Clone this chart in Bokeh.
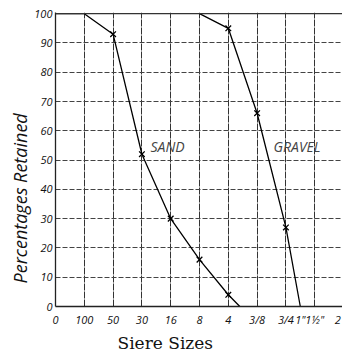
import math
from bokeh.plotting import figure
from bokeh.models import FixedTicker, Label, Range1d, Title, Span
from bokeh.embed import file_html
from bokeh.resources import INLINE

# Sieve positions (evenly spaced grid columns) and their labels
x_tick_pos = [0, 1, 2, 3, 4, 5, 6, 7, 8, 8.5, 9, 9.8]
x_tick_labels = ["0", "100", "50", "30", "16", "8", "4", "3/8", "3/4", "1\"", "1½\"", "2"]
x_grid_pos = [1, 2, 3, 4, 5, 6, 7, 8, 9]
y_ticks = [0, 10, 20, 30, 40, 50, 60, 70, 80, 90, 100]

# Percentages retained
sand_x = [0, 1, 2, 3, 4, 5, 6, 6.4]
sand_y = [100, 100, 93, 52, 30, 16, 4, 0]
gravel_x = [5, 6, 7, 8, 8.5]
gravel_y = [100, 95, 66, 27, 0]

HAND = "Open Sans"

p = figure(width=342, height=355, output_backend="svg", toolbar_location=None,
           x_range=Range1d(0, 9.965), y_range=Range1d(0, 100.4),
           min_border_left=55, min_border_right=0, min_border_top=12, min_border_bottom=49)
p.outline_line_color = None
p.background_fill_color = "white"
p.border_fill_color = "white"

# axes
p.xaxis.ticker = FixedTicker(ticks=x_tick_pos)
p.xaxis.major_label_overrides = {t: l for t, l in zip(x_tick_pos, x_tick_labels)}
p.yaxis.ticker = FixedTicker(ticks=y_ticks)
for ax in (p.xaxis, p.yaxis):
    ax.major_tick_line_color = None
    ax.minor_tick_line_color = None
    ax.major_tick_out = 0
    ax.major_tick_in = 0
    ax.minor_tick_out = 0
    ax.axis_line_color = "#222222"
    ax.axis_line_width = 1.3
    ax.major_label_text_font = HAND
    ax.major_label_text_font_style = "italic"
    ax.major_label_text_font_size = "11px"
    ax.major_label_text_color = "#111111"
p.xaxis.major_label_standoff = 5
p.yaxis.major_label_standoff = 3

# grid
p.xgrid.ticker = FixedTicker(ticks=x_grid_pos)
p.ygrid.ticker = FixedTicker(ticks=y_ticks[1:])
p.xgrid.grid_line_color = "#333333"
p.xgrid.grid_line_width = 1
p.xgrid.grid_line_dash = "7 1"
p.ygrid.grid_line_color = "#444444"
p.ygrid.grid_line_width = 1
p.ygrid.grid_line_dash = "5 2"
p.add_layout(Span(location=y_ticks[-1], dimension="width", line_color="#333333", line_width=1.2))

# curves
p.line(sand_x, sand_y, line_color="black", line_width=1.3)
p.line(gravel_x, gravel_y, line_color="black", line_width=1.3)
p.scatter(sand_x[2:7], sand_y[2:7], marker="x", size=8, line_color="black", line_width=1.3)
p.scatter(gravel_x[1:4], gravel_y[1:4], marker="x", size=8, line_color="black", line_width=1.3)

p.add_layout(Label(x=3.3, y=54.6, text="SAND", text_font=HAND, text_font_style="italic",
                   text_font_size="14px", text_baseline="middle", text_align="left"))
p.add_layout(Label(x=7.57, y=54.6, text="GRAVEL", text_font=HAND, text_font_style="italic",
                   text_font_size="14px", text_baseline="middle", text_align="left"))

# axis titles
p.add_layout(Title(text="Percentages Retained", align="left", offset=23, standoff=0,
                   text_font=HAND, text_font_style="italic", text_font_size="18px",
                   text_line_height=1.0, text_color="#111111"), "left")
p.add_layout(Title(text="Siere Sizes", align="left", offset=62, standoff=2,
                   text_font="DejaVu Serif", text_font_size="17px", text_font_style="normal",
                   text_line_height=1.0, text_color="#111111"), "below")

open("out.html", "w").write(file_html(p, INLINE))
